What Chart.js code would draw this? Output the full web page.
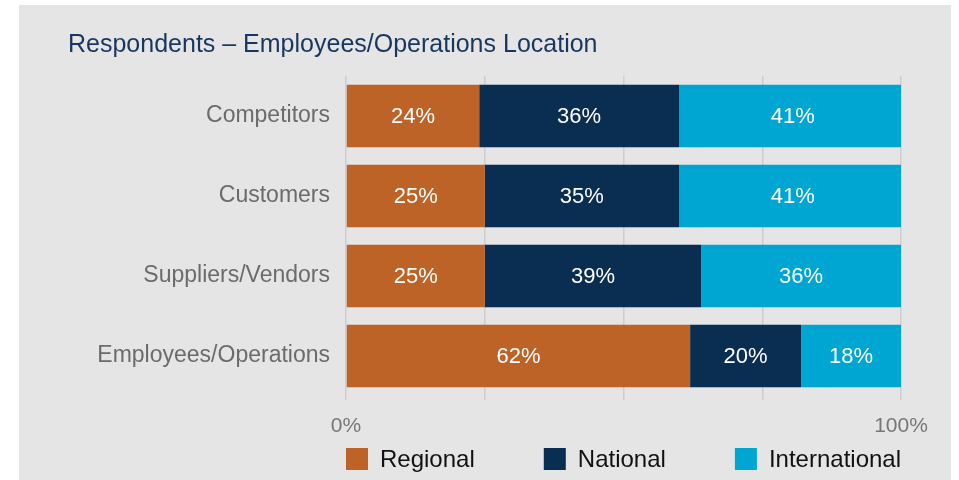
<!DOCTYPE html>
<html>
<head>
<meta charset="utf-8">
<script src="https://cdn.jsdelivr.net/npm/chart.js@4"></script>
<style>
  body { margin: 0; background: #ffffff; }
  #wrap { position: absolute; left: 19px; top: 5px; width: 932px; height: 475px; background: #e4e5e4; }
  #myChart { position: absolute; left: 0; top: 0; }
</style>
</head>
<body>
<div id="wrap"><canvas id="myChart" width="932" height="475"></canvas></div>
<script>
var categories = ["Competitors", "Customers", "Suppliers/Vendors", "Employees/Operations"];
var regional = [24, 25, 25, 62];
var national = [36, 35, 39, 20];
var international = [41, 41, 36, 18];
var seriesNames = ["Regional", "National", "International"];
var xTickLabels = { 0: "0%", 100: "100%" };

var fontFamily = "'Liberation Sans', Arial, sans-serif";

// white % text in the middle of each bar
var barLabels = {
    id: "barLabels",
    afterDatasetsDraw(chart) {
        var ctx = chart.ctx;
        ctx.save();
        ctx.font = "22px " + fontFamily;
        ctx.fillStyle = "#ffffff";
        ctx.textAlign = "center";
        ctx.textBaseline = "middle";
        chart.data.datasets.forEach((ds, i) => {
            var meta = chart.getDatasetMeta(i);
            meta.data.forEach((bar, j) => {
                var p = bar.getProps(["x", "y", "base"], true);
                ctx.fillText(ds.data[j] + "%", (p.x + p.base) / 2, p.y + 1);
            });
        });
        ctx.restore();
    }
};

// legend spread across the plot width
var spreadLegend = {
    id: "spreadLegend",
    afterDraw(chart) {
        var ctx = chart.ctx;
        var area = chart.chartArea;
        var box = 22, gapText = 12;
        ctx.save();
        ctx.font = "24px " + fontFamily;
        ctx.textBaseline = "middle";
        ctx.textAlign = "left";
        var ds = chart.data.datasets;
        var widths = ds.map(d => box + gapText + ctx.measureText(d.label).width);
        var total = widths.reduce((a, b) => a + b, 0);
        var gap = (area.right - area.left - total) / (ds.length - 1);
        var x = area.left;
        var y = area.bottom + 63;
        ds.forEach((d, i) => {
            ctx.fillStyle = d.backgroundColor;
            ctx.fillRect(x, y - box / 2, box, box);
            ctx.fillStyle = "#111111";
            ctx.fillText(d.label, x + box + gapText, y + 1);
            x += widths[i] + gap;
        });
        ctx.restore();
    }
};

var curve = document.querySelector("#myChart").getContext("2d");

var myChart = new Chart(curve, {
    type: "bar",
    data: {
        labels: categories,
        datasets: [{
            label: seriesNames[0],
            data: regional,
            backgroundColor: "#bd6327"
        }, {
            label: seriesNames[1],
            data: national,
            backgroundColor: "#0a2e52"
        }, {
            label: seriesNames[2],
            data: international,
            backgroundColor: "#00a6d2"
        }]
    },
    plugins: [barLabels, spreadLegend],
    options: {
        responsive: false,
        animation: false,
        indexAxis: "y",
        layout: { padding: { left: 49, right: 50, top: 0, bottom: 40 } },
        datasets: { bar: { categoryPercentage: 1, barPercentage: 0.78, borderWidth: 0 } },
        plugins: {
            legend: { display: false },
            tooltip: { enabled: false },
            title: {
                display: true,
                text: "Respondents \u2013 Employees/Operations Location",
                align: "start",
                color: "#17375e",
                font: { family: fontFamily, size: 25, weight: "normal" },
                padding: { top: 25, bottom: 16 }
            }
        },
        scales: {
            x: {
                stacked: true,
                min: 0,
                max: 100,
                border: { display: false },
                grid: { color: "#cdcecd", lineWidth: 1.5, drawTicks: true, tickLength: 4 },
                ticks: {
                    stepSize: 25,
                    padding: 14,
                    maxRotation: 0,
                    color: "#777777",
                    font: { family: fontFamily, size: 21 },
                    callback: (v) => xTickLabels[v] || ""
                },
                afterFit(scale) { scale.height = 44; }
            },
            y: {
                stacked: true,
                border: { display: false },
                grid: { display: false, drawTicks: false },
                ticks: {
                    padding: 16,
                    color: "#6b6b6b",
                    font: { family: fontFamily, size: 23 }
                },
                afterFit(scale) { scale.width = 278; }
            }
        }
    }
});
</script>
</body>
</html>
